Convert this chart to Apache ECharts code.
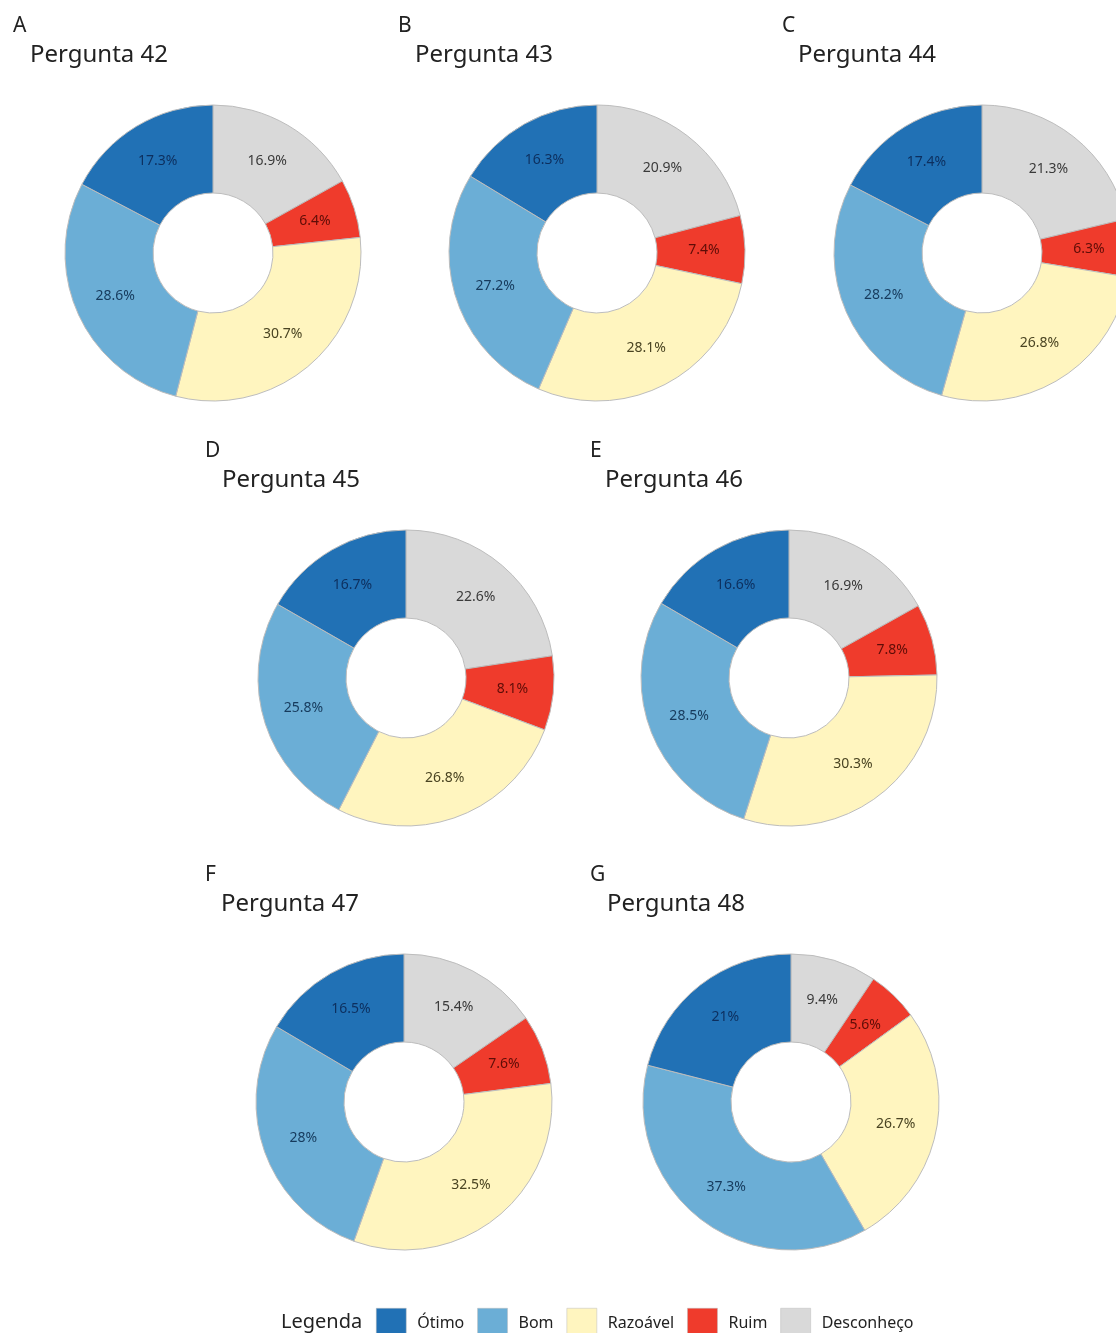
<!DOCTYPE html>
<html>
<head>
<meta charset="utf-8">
<script src="https://cdn.jsdelivr.net/npm/echarts@6/dist/echarts.min.js"></script>
<style>
  html, body { margin: 0; padding: 0; background: #fff; }
  #main { width: 1116px; height: 1333px; }
</style>
</head>
<body>
<div id="main"></div>
<script>
// categorias (ordem da legenda)
const categories = ['Ótimo', 'Bom', 'Razoável', 'Ruim', 'Desconheço']
const colors = ['#2171b5', '#6baed6', '#fff5bf', '#ef3b2c', '#d9d9d9']
const labelColors = ['#0d2f5e', '#163a5c', '#4a4422', '#5e0d07', '#3a3a3a']

const letters = ['A', 'B', 'C', 'D', 'E', 'F', 'G']
const questions = ['Pergunta 42', 'Pergunta 43', 'Pergunta 44', 'Pergunta 45', 'Pergunta 46', 'Pergunta 47', 'Pergunta 48']

// percentuais: Ótimo, Bom, Razoável, Ruim, Desconheço
const p42 = [17.3, 28.6, 30.7, 6.4, 16.9]
const p43 = [16.3, 27.2, 28.1, 7.4, 20.9]
const p44 = [17.4, 28.2, 26.8, 6.3, 21.3]
const p45 = [16.7, 25.8, 26.8, 8.1, 22.6]
const p46 = [16.6, 28.5, 30.3, 7.8, 16.9]
const p47 = [16.5, 28, 32.5, 7.6, 15.4]
const p48 = [21, 37.3, 26.7, 5.6, 9.4]
const allData = [p42, p43, p44, p45, p46, p47, p48]

// posição de cada donut (centro) e dos títulos
const centers = [[213, 253], [597, 253], [982, 253], [406, 678], [789, 678], [404, 1102], [791, 1102]]
const letterPos = [[13, 16], [398, 16], [782, 16], [205, 441], [590, 441], [205, 865], [590, 865]]
const textPos = [[30, 43], [415, 43], [798, 43], [222, 468], [605, 468], [221, 892], [607, 892]]

const FONT = '"Noto Sans", "Open Sans", sans-serif'

var chart = echarts.init(document.getElementById('main'))

var titles = []
letters.forEach(function (l, i) {
  titles.push({
    text: l, left: letterPos[i][0], top: letterPos[i][1], padding: 0,
    textStyle: { fontFamily: FONT, fontSize: 21, fontWeight: 'normal', color: '#222' }
  })
  titles.push({
    text: questions[i], left: textPos[i][0], top: textPos[i][1], padding: 0,
    textStyle: { fontFamily: FONT, fontSize: 24, fontWeight: 'normal', color: '#222' }
  })
})

// desenha no sentido horário a partir das 12h: Desconheço, Ruim, Razoável, Bom, Ótimo
var order = [4, 3, 2, 1, 0]

var series = allData.map(function (vals, i) {
  return {
    type: 'pie',
    name: questions[i],
    center: centers[i],
    radius: [60, 148],
    startAngle: 90,
    clockwise: true,
    animation: false,
    silent: true,
    itemStyle: { borderColor: '#bdbdbd', borderWidth: 1 },
    label: {
      show: true,
      position: 'inside',
      formatter: '{c}%',
      fontFamily: FONT,
      fontSize: 14
    },
    labelLine: { show: false },
    data: order.map(function (k) {
      return {
        name: categories[k],
        value: vals[k],
        itemStyle: { color: colors[k] },
        label: { color: labelColors[k] }
      }
    })
  }
})

var option = {
  backgroundColor: '#fff',
  title: titles,
  legend: {
    data: categories,
    left: 376,
    top: 1308,
    padding: 0,
    orient: 'horizontal',
    itemWidth: 30,
    itemHeight: 30,
    itemGap: 13,
    icon: 'rect',
    selectedMode: false,
    itemStyle: { borderColor: '#bdbdbd', borderWidth: 0.5 },
    textStyle: { fontFamily: FONT, fontSize: 16, color: '#222', padding: [0, 0, 0, 6] }
  },
  graphic: [{
    type: 'text',
    left: 281,
    top: 1312,
    style: { text: 'Legenda', font: '20px ' + FONT, fill: '#222' }
  }],
  series: series
}

chart.setOption(option)
</script>
</body>
</html>
